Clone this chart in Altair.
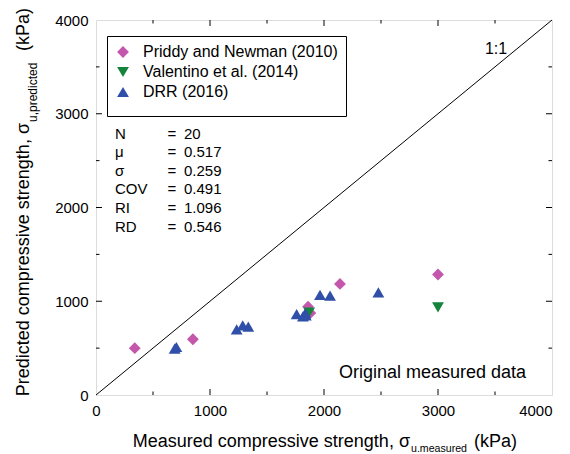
import altair as alt
import pandas as pd

# ---- data ----
series_names = ["Priddy and Newman (2010)", "Valentino et al. (2014)", "DRR (2016)"]
series_shapes = ["diamond", "triangle-down", "triangle-up"]
series_colors = ["#C456AC", "#16833C", "#2F4FA8"]

priddy_x = [340, 850, 1860, 1880, 2140, 3000]
priddy_y = [500, 595, 942, 875, 1185, 1285]
val_x = [1870, 3000]
val_y = [880, 935]
drr_x = [690, 705, 1234, 1287, 1336, 1760, 1815, 1835, 1840, 1965, 2053, 2477]
drr_y = [495, 512, 700, 743, 729, 862, 838, 872, 850, 1067, 1059, 1095]

axis_labels = [0, 1000, 2000, 3000, 4000]
major_ticks = [1000, 2000, 3000]
minor_ticks = [500, 1500, 2500, 3500]
line_1to1 = [0, 4000]

stats_names = ["N", "μ", "σ", "COV", "RI", "RD"]
stats_values = ["20", "0.517", "0.259", "0.491", "1.096", "0.546"]

W, H = 456, 375
FONT = "Liberation Sans"

rows = []
for xs, ys, name in [(priddy_x, priddy_y, series_names[0]),
                     (val_x, val_y, series_names[1]),
                     (drr_x, drr_y, series_names[2])]:
    for a, b in zip(xs, ys):
        rows.append({"x": a, "y": b, "series": name})
pts = pd.DataFrame(rows)

xscale = alt.Scale(domain=[0, 4000], nice=False, zero=False)
yscale = alt.Scale(domain=[0, 4000], nice=False, zero=False)

common_axis = dict(values=axis_labels, title=None, domain=False, ticks=False,
                   tickSize=0, grid=False, labelFontSize=15, labelPadding=8,
                   labelColor="black", format="d", labelFont=FONT,
                   labelFlush=False, labelOverlap=False)

XAX = alt.Axis(labelAlign={"condition": {"test": "datum.value >= 4000", "value": "right"},
                           "value": "center"}, **common_axis)
YAX = alt.Axis(**common_axis)

points = alt.Chart(pts).mark_point(filled=True, opacity=1, size=140).encode(
    x=alt.X("x:Q", scale=xscale, axis=XAX),
    y=alt.Y("y:Q", scale=yscale, axis=YAX),
    color=alt.Color("series:N", scale=alt.Scale(domain=series_names, range=series_colors),
                    legend=alt.Legend(title=" ", titleOrient="bottom", titleFontSize=8,
                                      titlePadding=0, orient="none", legendX=11, legendY=16,
                                      labelFontSize=16, labelFont=FONT, labelColor="black",
                                      labelLimit=400,
                                      symbolSize=140, labelOffset=12, rowPadding=4,
                                      padding=8, fillColor="white", strokeColor="black",
                                      symbolStrokeWidth=0)),
    shape=alt.Shape("series:N", scale=alt.Scale(domain=series_names, range=series_shapes)),
)

diag = alt.Chart(pd.DataFrame({"x": line_1to1, "y": line_1to1})).mark_line(
    color="black", strokeWidth=1).encode(
    x=alt.X("x:Q", scale=xscale, axis=XAX),
    y=alt.Y("y:Q", scale=yscale, axis=YAX),
)


def tick_layer(values, orient, length):
    d = pd.DataFrame({"v": values})
    m = alt.Chart(d).mark_rule(color="black", strokeWidth=1)
    if orient == "bottom":
        return m.encode(x=alt.X("v:Q", scale=xscale, axis=XAX),
                        y=alt.value(H), y2=alt.value(H - length))
    if orient == "top":
        return m.encode(x=alt.X("v:Q", scale=xscale, axis=XAX),
                        y=alt.value(0), y2=alt.value(length))
    if orient == "left":
        return m.encode(y=alt.Y("v:Q", scale=yscale, axis=YAX),
                        x=alt.value(0), x2=alt.value(length))
    return m.encode(y=alt.Y("v:Q", scale=yscale, axis=YAX),
                    x=alt.value(W), x2=alt.value(W - length))


ticks = []
for o in ["bottom", "top", "left", "right"]:
    ticks.append(tick_layer(major_ticks, o, 6))
    ticks.append(tick_layer(minor_ticks, o, 3.5))

one = pd.DataFrame({"a": [0]})


def label(text, x, y, size, align="left", angle=0):
    return alt.Chart(one).mark_text(text=text, font=FONT, fontSize=size, align=align,
                                    baseline="alphabetic", angle=angle, color="black").encode(
        x=alt.value(x), y=alt.value(y))


texts = [
    # x title
    label("Measured compressive strength, σ", 314, 427, 18, align="right"),
    label("u.measured", 315, 432, 10.6),
    label("(kPa)", 378, 427, 18),
    # y title
    label("Predicted compressive strength, σ", -67, 103, 18, align="right", angle=270),
    label("u,predicted", -59, 102, 12, angle=270),
    label("(kPa)", -67, 31, 18, angle=270),
    # annotations
    label("1:1", 400, 34, 16, align="center"),
    label("Original measured data", 430, 358, 18, align="right"),
]

stats = [
    alt.Chart(one).mark_text(text="\n".join(stats_names), lineBreak="\n", lineHeight=18.6,
                             font=FONT, fontSize=15, align="left", baseline="alphabetic",
                             color="black").encode(x=alt.value(19), y=alt.value(118.5)),
    alt.Chart(one).mark_text(text="\n".join(["="] * len(stats_names)), lineBreak="\n",
                             lineHeight=18.6, font=FONT, fontSize=15, align="left",
                             baseline="alphabetic", color="black").encode(
        x=alt.value(71.5), y=alt.value(118.5)),
    alt.Chart(one).mark_text(text="\n".join(stats_values), lineBreak="\n", lineHeight=18.6,
                             font=FONT, fontSize=15, align="left", baseline="alphabetic",
                             color="black").encode(x=alt.value(88), y=alt.value(118.5)),
]

chart = alt.layer(diag, *ticks, points, *texts, *stats).properties(
    width=W, height=H,
    autosize=alt.AutoSizeParams(type="none"),
    padding={"left": 88, "top": 12, "right": 10, "bottom": 59},
).configure_view(stroke="black", strokeWidth=1.2).configure(font=FONT)

chart.save("out.html", embed_options={"renderer": "svg", "actions": False})
